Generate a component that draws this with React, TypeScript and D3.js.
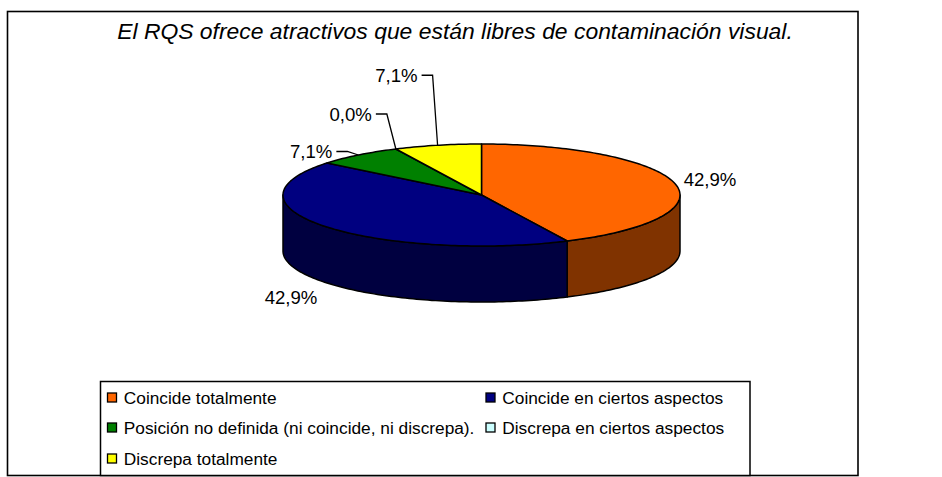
import React from "react";
import * as d3 from "d3";

const title = "El RQS ofrece atractivos que están libres de contaminación visual.";
const categories = [
  "Coincide totalmente",
  "Coincide en ciertos aspectos",
  "Posición no definida (ni coincide, ni discrepa).",
  "Discrepa en ciertos aspectos",
  "Discrepa totalmente",
];
const values = [42.9, 42.9, 7.1, 0.0, 7.1];
const valueLabels = ["42,9%", "42,9%", "7,1%", "0,0%", "7,1%"];
const topColors = ["#ff6600", "#000080", "#008000", "#ccffff", "#ffff00"];
const sideColors = ["#803300", "#000040", "#004000", "#668080", "#808000"];

const W = 942, H = 477;
const cx = 481.5, cy = 195, rx = 198.5, ry = 51, depth = 56;
const FONT = "'Liberation Sans', Arial, sans-serif";

const px = (a: number) => cx + rx * Math.sin(a);
const py = (a: number) => cy - ry * Math.cos(a);
const lineGen = d3.line<[number, number]>();

function arcPts(a0: number, a1: number, dy = 0): [number, number][] {
  const n = Math.max(2, Math.ceil(Math.abs(a1 - a0) / 0.02));
  return d3.range(n + 1).map((i) => {
    const a = a0 + ((a1 - a0) * i) / n;
    return [px(a), py(a) + dy] as [number, number];
  });
}

const leaderOffsets: ([number, number] | null)[] = [null, null, [-11, -3.5], [-9, -35], [-5, -70]];
const outerLabels: ([number, number] | null)[] = [[710, 186], [291, 304], null, null, null];

export default function App() {
  const pie = d3.pie<number>().sort(null).startAngle(0).endAngle(2 * Math.PI);
  const arcs = pie(values);

  const legendCols = [110, 488.5];
  const legendRows = [398.5, 428.5, 459.5];
  const legendPos = [
    [0, 0],
    [1, 0],
    [0, 1],
    [1, 1],
    [0, 2],
  ];

  return (
    <svg width={W} height={H} style={{ position: "absolute", left: 0, top: 0, fontFamily: FONT }}>
      <rect x={0} y={0} width={W} height={H} fill="#fff" />
      <rect x={7.5} y={11.5} width={850.5} height={464} fill="#fff" stroke="#000" strokeWidth={1.6} />
      <text x={455} y={39} fontSize={22.9} fontStyle="italic" textAnchor="middle" fill="#000">
        {title}
      </text>

      {arcs.map((d, i) => {
        const a0 = Math.max(d.startAngle, Math.PI / 2);
        const a1 = Math.min(d.endAngle, (3 * Math.PI) / 2);
        if (a1 <= a0) return null;
        const pts = [...arcPts(a0, a1), ...arcPts(a1, a0, depth)];
        return (
          <path key={i} d={lineGen(pts) + "Z"} fill={sideColors[i]} stroke="#000" strokeWidth={1.5} strokeLinejoin="round" />
        );
      })}

      {arcs.map((d, i) =>
        d.endAngle - d.startAngle <= 0 ? null : (
          <path
            key={i}
            d={lineGen([[cx, cy], ...arcPts(d.startAngle, d.endAngle)]) + "Z"}
            fill={topColors[i]}
            stroke="#000"
            strokeWidth={1.5}
            strokeLinejoin="round"
          />
        )
      )}

      {arcs.map((d, i) => {
        const mid = (d.startAngle + d.endAngle) / 2;
        const off = leaderOffsets[i];
        if (off) {
          const ex = px(mid), ey = py(mid);
          const elbowX = ex + off[0], elbowY = ey + off[1];
          return (
            <g key={i}>
              <path
                d={lineGen([[elbowX - 11, elbowY], [elbowX, elbowY], [ex, ey]]) ?? ""}
                fill="none"
                stroke="#000"
                strokeWidth={1.3}
              />
              <text x={elbowX - 15} y={elbowY + 7} fontSize={18.6} textAnchor="end" fill="#000">
                {valueLabels[i]}
              </text>
            </g>
          );
        }
        const p = outerLabels[i]!;
        return (
          <text key={i} x={p[0]} y={p[1]} fontSize={18.6} textAnchor="middle" fill="#000">
            {valueLabels[i]}
          </text>
        );
      })}

      <rect x={100.5} y={381.5} width={649.5} height={94} fill="#fff" stroke="#000" strokeWidth={1.5} />
      {categories.map((c, i) => {
        const [col, row] = legendPos[i];
        const x = legendCols[col], y = legendRows[row];
        return (
          <g key={c}>
            <rect x={x - 2.5} y={y - 5.5} width={9} height={9} fill={topColors[i]} stroke="#000" strokeWidth={1.3} />
            <text x={x + 13.8} y={y + 5.5} fontSize={17.3} fill="#000">
              {c}
            </text>
          </g>
        );
      })}
    </svg>
  );
}
